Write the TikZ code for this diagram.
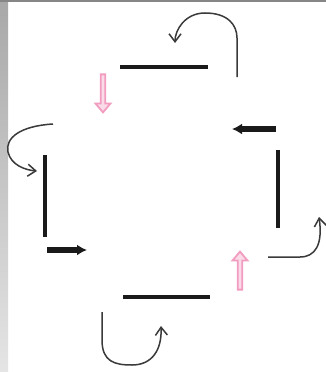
\documentclass[tikz,border=0pt]{standalone}
\usepackage{tikz}
\usetikzlibrary{arrows.meta,shapes.arrows}
\definecolor{edge}{HTML}{A8A8A8}
\definecolor{rose}{HTML}{F29CC0}
\definecolor{ink}{HTML}{1A1A1A}
\definecolor{pen}{HTML}{3A3A3A}

\begin{document}
\begin{tikzpicture}[x=1pt,y=-1pt,
bar/.style={ink,line width=4pt},
push/.style={ink,line width=6pt,-{Latex[length=10pt,width=11pt]}},
turn/.style={pen,line width=1.5pt,-{Straight Barb[length=8pt,width=12pt]}},
hint/.style={single arrow,draw=rose,fill=rose!35,line width=1.8pt,minimum width=15pt,minimum height=38pt,
single arrow head extend=2pt,single arrow tip angle=80,inner sep=0pt}]
% frame
\useasboundingbox (0,0) rectangle (326,372);
\fill[white] (0,0) rectangle (326,372);
\shade[top color=edge,bottom color=edge!30] (0,0) rectangle (8,372);
\fill[edge!80!black] (0,0) rectangle (326,1.5);
% sides of the square
\draw[bar] (120,67) -- (208,67);
\draw[bar] (45,155) -- (45,237);
\draw[bar] (278,150) -- (278,228);
\draw[bar] (123,297) -- (210,297);
% straight pushes
\node[hint,rotate=-90] (dn) at (103,92) {};
\node[hint,rotate=90] (up) at (240,272) {};
\coordinate (la) at (47,250); \coordinate (lb) at (87,250);
\coordinate (ra) at (276,129); \coordinate (rb) at (232,129);
\draw[push] (la) -- (lb);
\draw[push] (ra) -- (rb);
% curls
\coordinate (t0) at (237,77); \coordinate (t1) at (175,43);
\draw[turn] (t0) -- (237,38) .. controls (237,25) and (228,13) .. (205,13) .. controls (185,13) and (175,30) .. (t1);
\coordinate (l0) at (53,124); \coordinate (l1) at (37,171);
\draw[turn] (l0) .. controls (20,126) and (5,138) .. (8,152) .. controls (11,165) and (25,170) .. (l1);
\coordinate (r0) at (268,257); \coordinate (r1) at (319,217);
\draw[turn] (r0) -- (300,257) .. controls (315,257) and (323,245) .. (r1);
\coordinate (b0) at (102,312); \coordinate (b1) at (161,326);
\draw[turn] (b0) -- (102,340) .. controls (102,362) and (115,365) .. (132,365) .. controls (152,365) and (162,350) .. (b1);
\end{tikzpicture}
\end{document}
